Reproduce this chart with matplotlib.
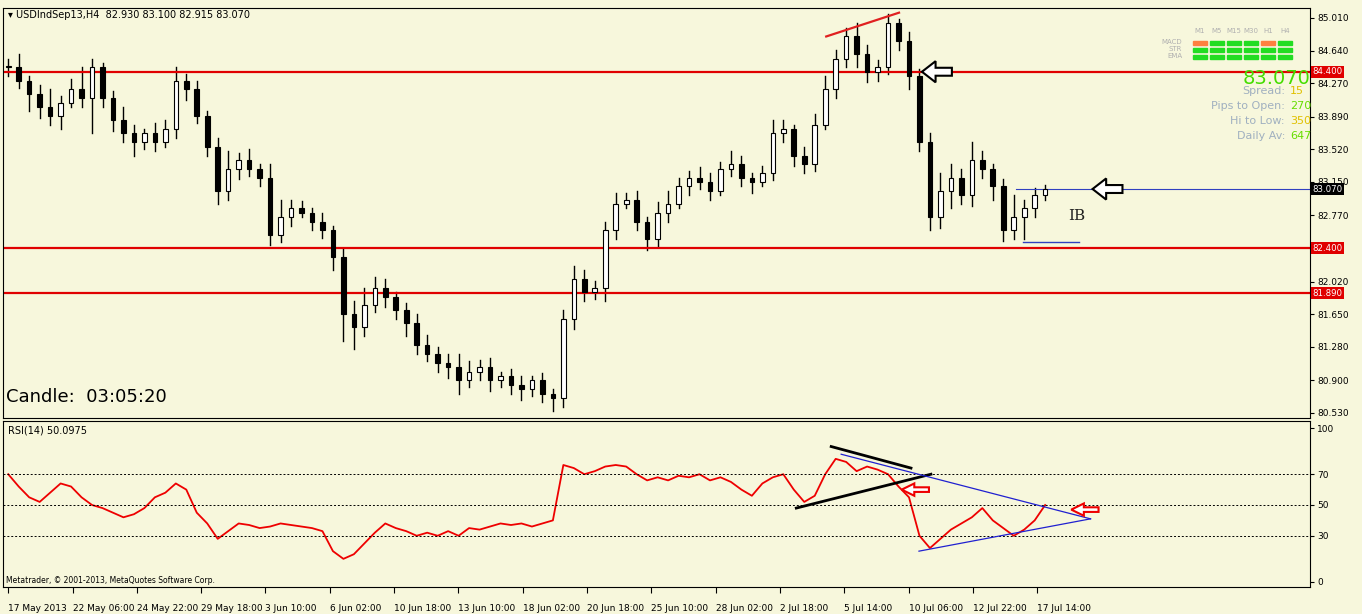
import numpy as np
import matplotlib.pyplot as plt
from matplotlib.patches import Rectangle, FancyArrow

W, H = 1362, 614
BG = '#f7f7dc'

closes = [84.45, 84.30, 84.15, 84.00, 83.90, 84.05, 84.20, 84.10, 84.45, 84.10,
          83.85, 83.70, 83.60, 83.70, 83.60, 83.75, 84.30, 84.20, 83.90, 83.55,
          83.05, 83.30, 83.40, 83.30, 83.20, 82.55, 82.75, 82.85, 82.80, 82.70,
          82.60, 82.30, 81.65, 81.50, 81.75, 81.95, 81.85, 81.70, 81.55, 81.30,
          81.20, 81.10, 81.05, 80.90, 81.00, 81.05, 80.90, 80.95, 80.85, 80.80,
          80.90, 80.75, 80.70, 81.60, 82.05, 81.90, 81.95, 82.60, 82.90, 82.95,
          82.70, 82.50, 82.80, 82.90, 83.10, 83.20, 83.15, 83.05, 83.30, 83.35,
          83.20, 83.15, 83.25, 83.70, 83.75, 83.45, 83.35, 83.80, 84.20, 84.55,
          84.80, 84.60, 84.40, 84.45, 84.95, 84.75, 84.35, 83.60, 82.75, 83.05,
          83.20, 83.00, 83.40, 83.30, 83.10, 82.60, 82.75, 82.85, 83.00, 83.07]
upper_wick = [0.10, 0.15, 0.05, 0.10, 0.20, 0.08, 0.12, 0.25, 0.10, 0.05,
              0.08, 0.15, 0.10, 0.05, 0.12, 0.10, 0.15, 0.08, 0.10, 0.05,
              0.10, 0.20, 0.08, 0.12, 0.05, 0.15, 0.20, 0.10, 0.08, 0.05,
              0.10, 0.05, 0.10, 0.15, 0.20, 0.12, 0.10, 0.05, 0.08, 0.10,
              0.12, 0.08, 0.10, 0.15, 0.12, 0.08, 0.10, 0.05, 0.08, 0.10,
              0.05, 0.08, 0.05, 0.10, 0.15, 0.10, 0.08, 0.10, 0.12, 0.08,
              0.10, 0.05, 0.12, 0.15, 0.10, 0.08, 0.12, 0.10, 0.08, 0.15,
              0.10, 0.05, 0.08, 0.15, 0.10, 0.05, 0.10, 0.12, 0.15, 0.10,
              0.10, 0.15, 0.10, 0.08, 0.10, 0.05, 0.10, 0.08, 0.10, 0.20,
              0.15, 0.10, 0.20, 0.10, 0.05, 0.08, 0.25, 0.10, 0.08, 0.05]
lower_wick = [0.10, 0.08, 0.20, 0.12, 0.10, 0.15, 0.05, 0.10, 0.40, 0.10,
              0.12, 0.10, 0.15, 0.08, 0.10, 0.05, 0.10, 0.12, 0.08, 0.10,
              0.15, 0.10, 0.12, 0.08, 0.10, 0.12, 0.08, 0.10, 0.05, 0.10,
              0.08, 0.15, 0.30, 0.25, 0.10, 0.08, 0.12, 0.10, 0.15, 0.10,
              0.08, 0.10, 0.12, 0.15, 0.08, 0.10, 0.12, 0.08, 0.10, 0.12,
              0.08, 0.10, 0.15, 0.10, 0.12, 0.10, 0.08, 0.15, 0.10, 0.05,
              0.10, 0.12, 0.08, 0.10, 0.05, 0.10, 0.08, 0.10, 0.05, 0.08,
              0.10, 0.12, 0.05, 0.08, 0.10, 0.12, 0.10, 0.08, 0.05, 0.10,
              0.10, 0.15, 0.12, 0.10, 0.08, 0.10, 0.15, 0.10, 0.15, 0.12,
              0.20, 0.10, 0.12, 0.10, 0.15, 0.12, 0.10, 0.25, 0.10, 0.05]
rsi = [70, 62, 55, 52, 58, 64, 62, 55, 50, 48,
       45, 42, 44, 48, 55, 58, 64, 60, 45, 38,
       28, 33, 38, 37, 35, 36, 38, 37, 36, 35,
       33, 20, 15, 18, 25, 32, 38, 35, 33, 30,
       32, 30, 33, 30, 35, 34, 36, 38, 37, 38,
       36, 38, 40, 76, 74, 70, 72, 75, 76, 75,
       70, 66, 68, 66, 69, 68, 70, 66, 68, 65,
       60, 56, 64, 68, 70, 60, 52, 56, 70, 80,
       78, 72, 75, 73, 70, 62, 55, 30, 22, 28,
       34, 38, 42, 48, 40, 35, 30, 34, 40, 50]
date_labels = ['17 May 2013', '22 May 06:00', '24 May 22:00', '29 May 18:00', '3 Jun 10:00',
               '6 Jun 02:00', '10 Jun 18:00', '13 Jun 10:00', '18 Jun 02:00', '20 Jun 18:00',
               '25 Jun 10:00', '28 Jun 02:00', '2 Jul 18:00', '5 Jul 14:00', '10 Jul 06:00',
               '12 Jul 22:00', '17 Jul 14:00']
price_ticks = [85.010, 84.640, 84.270, 83.890, 83.520, 83.150, 82.770,
               82.020, 81.650, 81.280, 80.900, 80.530]
red_levels = [84.400, 82.400, 81.890]
last_price = 83.070
rsi_levels = [70, 50, 30]
info_names = ['Spread:', 'Pips to Open:', 'Hi to Low:', 'Daily Av:']
info_vals = ['15', '270', '350', '647']
info_cols = ['#e0c000', '#66dd00', '#e0c000', '#66dd00']

BAR_PX = 10.5


def px2bar(x):
    return (x - 5) / BAR_PX


fig = plt.figure(figsize=(W / 100, H / 100), dpi=100, facecolor=BG)
ax = fig.add_axes([3 / W, 1 - 418 / H, 1307 / W, 410 / H], facecolor=BG)
ar = fig.add_axes([3 / W, 1 - 587 / H, 1307 / W, 166 / H], facecolor=BG)
xlim = (-0.5, px2bar(1310))

opens = [closes[0]] + closes[:-1]
for i, (o, c) in enumerate(zip(opens, closes)):
    hi = max(o, c) + upper_wick[i]
    lo = min(o, c) - lower_wick[i]
    ax.plot([i, i], [lo, hi], color='black', lw=1)
    ax.add_patch(Rectangle((i - 0.22, min(o, c)), 0.44, max(abs(c - o), 0.01),
                           facecolor='white' if c >= o else 'black',
                           edgecolor='black', lw=0.8, zorder=3))

for lv in red_levels:
    ax.axhline(lv, color='#e00000', lw=1.6)
ax.plot([px2bar(1015), xlim[1]], [last_price, last_price], color='#3040c0', lw=0.8)
ax.plot([px2bar(1022), px2bar(1078)], [82.47, 82.47], color='#3040c0', lw=1)
ax.plot([px2bar(825), px2bar(898)], [84.80, 85.07], color='#e02020', lw=1.6)
for x, y in [(951, 84.40), (1122, 83.07)]:
    ax.add_patch(FancyArrow(px2bar(x), y, -30 / BAR_PX, 0,
                            width=0.09, head_width=0.24, head_length=1.3,
                            length_includes_head=True, facecolor='white',
                            edgecolor='black', lw=1.5, zorder=5))
ax.text(px2bar(1068), 82.72, 'IB', fontsize=11, family='DejaVu Serif', color='#202020')
ax.set_xlim(*xlim)
ax.set_ylim(80.473, 85.123)
ax.yaxis.tick_right()
ax.set_yticks(price_ticks)
ax.set_yticklabels(['%.3f' % v for v in price_ticks], fontsize=6.5)
ax.set_xticks([])
ax.tick_params(axis='y', length=3, pad=2)
for lv, fc in [(84.400, '#e00000'), (82.400, '#e00000'), (81.890, '#e00000'), (last_price, 'black')]:
    ax.text(1.002, lv, '%.3f' % lv, transform=ax.get_yaxis_transform(), fontsize=6.2,
            color='white', va='center', ha='left',
            bbox=dict(boxstyle='square,pad=0.15', fc=fc, ec='none'))
ax.text(0.004, 0.995, '\u25be USDIndSep13,H4  82.930 83.100 82.915 83.070',
        transform=ax.transAxes, fontsize=7, va='top')
ax.text(0.002, 0.03, 'Candle:  03:05:20', transform=ax.transAxes, fontsize=13, va='bottom')

# info panel
cols = ['M1', 'M5', 'M15', 'M30', 'H1', 'H4']
for j, name in enumerate(cols):
    xx = 1200 + j * 17
    fig.text(xx / W, 1 - 33 / H, name, fontsize=5, color='#b0b0b0', ha='center')
    for k, rc in enumerate(['MACD', 'STR', 'EMA']):
        col = '#ff8040' if (k == 0 and j in (0, 4)) else '#22dd22'
        fig.patches.append(Rectangle(((xx - 7) / W, 1 - (45 + k * 7) / H), 14 / W, 4 / H,
                                     transform=fig.transFigure, color=col))
for k, rc in enumerate(['MACD', 'STR', 'EMA']):
    fig.text(1182 / W, 1 - (45 + k * 7) / H, rc, fontsize=5, color='#b0b0b0', ha='right', va='bottom')
fig.text(1310 / W, 1 - 84 / H, '%.3f' % last_price, fontsize=14, color='#44dd00', ha='right')
for k in range(4):
    yy = 1 - (91 + k * 15) / H
    fig.text(1285 / W, yy, info_names[k], fontsize=8, color='#a0b0c0', ha='right', va='center')
    fig.text(1290 / W, yy, info_vals[k], fontsize=8, color=info_cols[k], ha='left', va='center')

# RSI panel
ar.plot(range(len(rsi)), rsi, color='#ee0000', lw=1.3)
for lv in rsi_levels:
    ar.axhline(lv, color='black', lw=0.7, ls=(0, (2, 2)))
ar.plot([px2bar(830), px2bar(910)], [88, 74], color='black', lw=2)
ar.plot([px2bar(795), px2bar(930)], [48, 70], color='black', lw=2)
ar.plot([px2bar(840), px2bar(1090)], [83, 41], color='#2020d0', lw=0.9)
ar.plot([px2bar(918), px2bar(1090)], [20, 41], color='#2020d0', lw=0.9)
for x, y in [(928, 60), (1098, 47)]:
    ar.add_patch(FancyArrow(px2bar(x), y, -2.6, 0, width=3, head_width=8, head_length=1.2,
                            length_includes_head=True, facecolor='white',
                            edgecolor='#ee0000', lw=1.5, zorder=5))
ar.set_xlim(*xlim)
ar.set_ylim(-3.3, 104.6)
ar.yaxis.tick_right()
ar.set_yticks([0, 30, 50, 70, 100])
ar.tick_params(axis='y', labelsize=6.5, length=3, pad=2)
ar.set_xticks(np.arange(len(date_labels)) * 6.14)
ar.set_xticklabels(date_labels, fontsize=6.5, ha='left')
ar.tick_params(axis='x', length=4, pad=8)
ar.text(0.004, 0.97, 'RSI(14) 50.0975', transform=ar.transAxes, fontsize=7, va='top')
ar.text(0.002, 0.01, 'Metatrader, \u00a9 2001-2013, MetaQuotes Software Corp.',
        transform=ar.transAxes, fontsize=5.5, va='bottom')

fig.savefig('out.png', dpi=100, facecolor=BG)
